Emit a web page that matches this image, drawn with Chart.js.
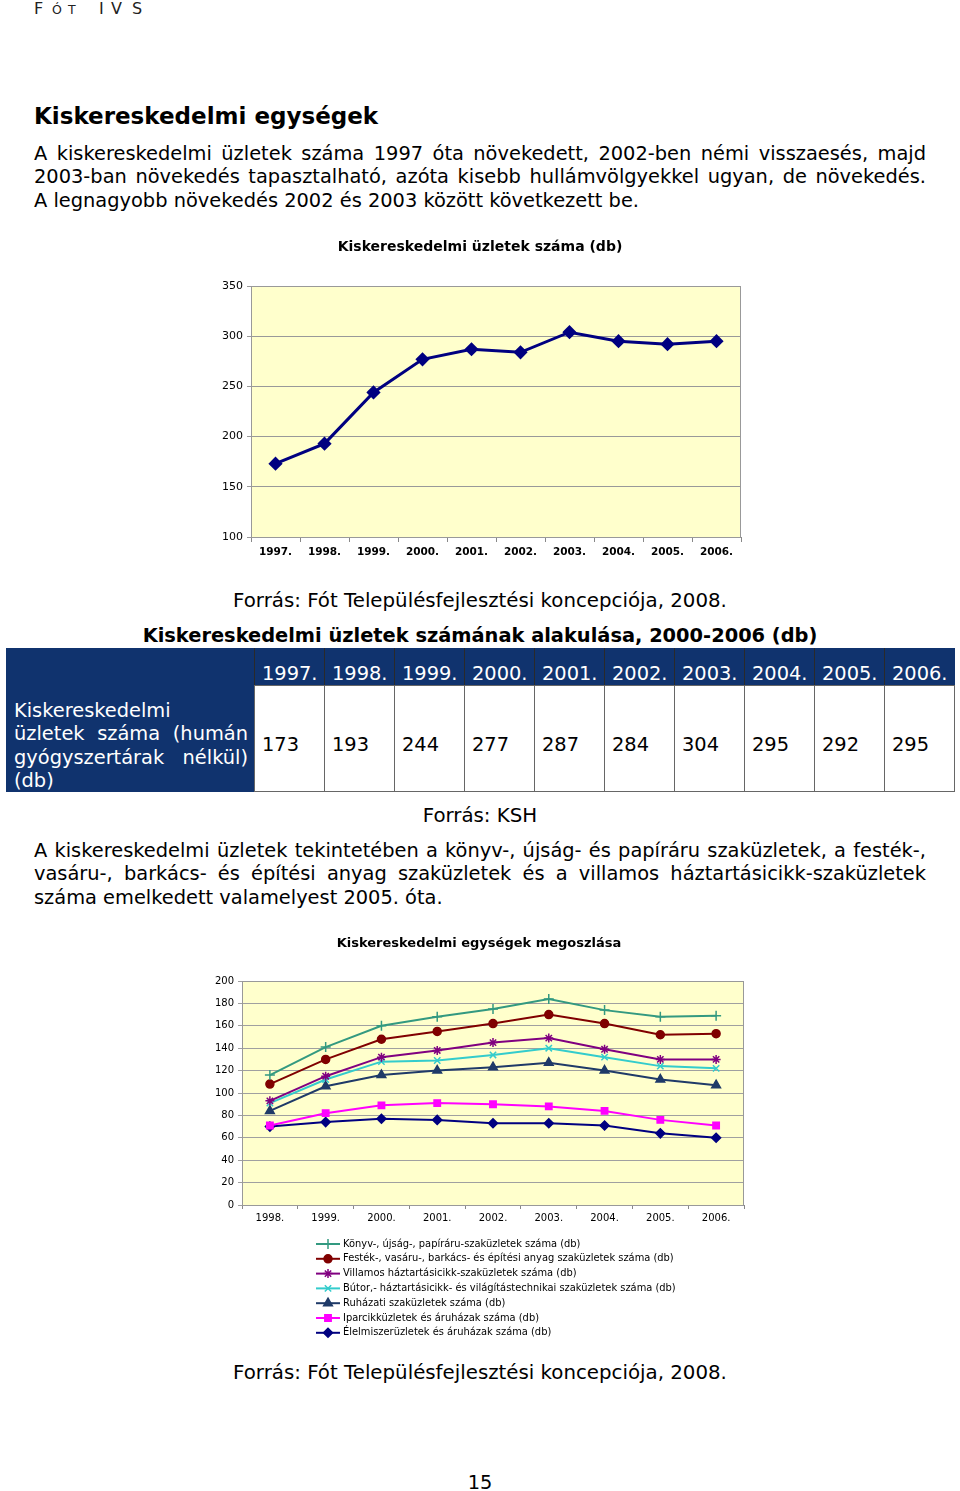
<!DOCTYPE html>
<html lang="hu">
<head>
<meta charset="UTF-8">
<title>Kiskereskedelmi egységek</title>
<script src="https://cdn.jsdelivr.net/npm/chart.js"></script>
<style>
  body {
    margin: 0;
    width: 960px;
    height: 1491px;
    position: relative;
    overflow: hidden;
    background: #fff;
    color: #000;
    font-family: "DejaVu Sans", Verdana, sans-serif;
  }
  .hdr span { position: absolute; top: 0; font-size: 16px; line-height: 18px; color: #222; }
  .hdr span.sc { font-size: 12.5px; top: 1px; }
  h1 { position: absolute; left: 34px; top: 102px; margin: 0; font-size: 23px; line-height: 28px; }
  .para { position: absolute; left: 34px; width: 892px; font-size: 19.4px; line-height: 23.3px; }
  .para .j { text-align: justify; text-align-last: justify; }
  .center { position: absolute; left: 0; width: 960px; text-align: center; font-size: 19.4px; line-height: 24px; }
  .src { font-size: 19.8px; }
  canvas { position: absolute; }
  .cell { position: absolute; box-sizing: border-box; font-size: 19.4px; line-height: 23px; }
  .head { background: #10336e; color: #fff; }
  .data { background: #fff; border: 1px solid #666; }
  .rowhead { line-height: 23.3px; }
  .rowhead .j { text-align: justify; text-align-last: justify; }
</style>
</head>
<body>
<div class="hdr">
  <span style="left:34px">F</span><span class="sc" style="left:52px">Ó</span><span class="sc" style="left:68px">T</span>
  <span style="left:99px">I</span><span style="left:111px">V</span><span style="left:132px">S</span>
</div>

<h1>Kiskereskedelmi egységek</h1>

<div class="para" style="top:142px">
  <div class="j">A kiskereskedelmi üzletek száma 1997 óta növekedett, 2002-ben némi visszaesés, majd</div>
  <div class="j">2003-ban növekedés tapasztalható, azóta kisebb hullámvölgyekkel ugyan, de növekedés.</div>
  <div>A legnagyobb növekedés 2002 és 2003 között következett be.</div>
</div>

<canvas id="shopChart" width="524" height="329" style="left:219px; top:238px;"></canvas>

<div class="center src" style="top:589px">Forrás: Fót Településfejlesztési koncepciója, 2008.</div>
<div class="center" style="top:624px; font-weight:bold;">Kiskereskedelmi üzletek számának alakulása, 2000-2006 (db)</div>

<div id="table"></div>

<div class="center src" style="top:804px">Forrás: KSH</div>

<div class="para" style="top:839px">
  <div class="j">A kiskereskedelmi üzletek tekintetében a könyv-, újság- és papíráru szaküzletek, a festék-,</div>
  <div class="j">vasáru-, barkács- és építési anyag szaküzletek és a villamos háztartásicikk-szaküzletek</div>
  <div>száma emelkedett valamelyest 2005. óta.</div>
</div>

<canvas id="typeChart" width="532" height="409" style="left:214px; top:936px;"></canvas>

<div class="center src" style="top:1361px">Forrás: Fót Településfejlesztési koncepciója, 2008.</div>
<div class="center" style="top:1471px">15</div>

<script>
// --- adatok ---
const years1 = ['1997.', '1998.', '1999.', '2000.', '2001.', '2002.', '2003.', '2004.', '2005.', '2006.'];
const shopCounts = [173, 193, 244, 277, 287, 284, 304, 295, 292, 295];
const shopAxisMin = 100;
const shopAxisMax = 350;
const shopAxisStep = 50;

const years2 = ['1998.', '1999.', '2000.', '2001.', '2002.', '2003.', '2004.', '2005.', '2006.'];
const bookShops = [116, 141, 160, 168, 175, 184, 174, 168, 169];
const hardwareShops = [108, 130, 148, 155, 162, 170, 162, 152, 153];
const electricShops = [93, 115, 132, 138, 145, 149, 139, 130, 130];
const furnitureShops = [91, 112, 128, 129, 134, 140, 132, 124, 122];
const clothingShops = [84, 106, 116, 120, 123, 127, 120, 112, 107];
const industrialShops = [71, 82, 89, 91, 90, 88, 84, 76, 71];
const foodShops = [70, 74, 77, 76, 73, 73, 71, 64, 60];
const typeAxisMin = 0;
const typeAxisMax = 200;
const typeAxisStep = 20;

const seriesNames = [
    'Könyv-, újság-, papíráru-szaküzletek száma (db)',
    'Festék-, vasáru-, barkács- és építési anyag szaküzletek száma (db)',
    'Villamos háztartásicikk-szaküzletek száma (db)',
    'Bútor,- háztartásicikk- és világítástechnikai szaküzletek száma (db)',
    'Ruházati szaküzletek száma (db)',
    'Iparcikküzletek és áruházak száma (db)',
    'Élelmiszerüzletek és áruházak száma (db)'
];
const tableRowLabel = ['Kiskereskedelmi', 'üzletek száma (humán', 'gyógyszertárak nélkül)', '(db)'];

// --- táblázat ---
const table = document.getElementById('table');
function addCell(cls, left, top, width, height, html) {
    const d = document.createElement('div');
    d.className = 'cell ' + cls;
    d.style.left = left + 'px';
    d.style.top = top + 'px';
    d.style.width = width + 'px';
    d.style.height = height + 'px';
    d.innerHTML = html;
    table.appendChild(d);
    return d;
}
addCell('head', 6, 648, 948, 38, '');
addCell('head rowhead', 6, 685, 249, 107,
    '<div style="padding:14px 7px 0 8px">' +
    tableRowLabel.map((t, i) => '<div class="' + (i === 1 || i === 2 ? 'j' : '') + '">' + t + '</div>').join('') +
    '</div>');
years1.forEach((y, i) => {
    const x = 254 + i * 70;
    const h = addCell('head', x, 648, 71, 38, '<div style="padding:14px 0 0 7px">' + y + '</div>');
    h.style.borderLeft = '1px solid #2a2a2a';
    addCell('data', x, 685, 71, 107, '<div style="padding:47px 0 0 7px">' + shopCounts[i] + '</div>');
});

// --- közös beállítások ---
Chart.defaults.font.family = '"DejaVu Sans", Verdana, sans-serif';
Chart.defaults.color = '#000';

const plotFrame = {
    id: 'plotFrame',
    beforeDraw(chart) {
        const a = chart.chartArea, c = chart.ctx;
        c.save();
        c.fillStyle = '#ffffcc';
        c.fillRect(a.left, a.top, a.right - a.left, a.bottom - a.top);
        c.restore();
    },
    beforeDatasetsDraw(chart) {
        const a = chart.chartArea, c = chart.ctx;
        c.save();
        c.strokeStyle = '#999';
        c.lineWidth = 1;
        c.strokeRect(a.left + 0.5, a.top + 0.5, a.right - a.left - 1, a.bottom - a.top);
        c.restore();
    }
};

// jelmagyarázat a diagram alatt, soronként egy tétel
const lineLegend = {
    id: 'lineLegend',
    afterDraw(chart) {
        const c = chart.ctx, a = chart.chartArea;
        chart.data.datasets.forEach((ds, i) => {
            const y = a.bottom + 39 + i * 14.8;
            const x0 = a.left + 74;
            c.save();
            c.strokeStyle = ds.borderColor;
            c.lineWidth = 2;
            c.beginPath();
            c.moveTo(x0, y);
            c.lineTo(x0 + 24, y);
            c.stroke();
            c.fillStyle = ds.pointBackgroundColor;
            c.strokeStyle = ds.pointBorderColor;
            c.lineWidth = ds.pointBorderWidth;
            Chart.helpers.drawPoint(c, {
                pointStyle: ds.pointStyle, radius: ds.pointRadius, rotation: 0, borderWidth: ds.pointBorderWidth
            }, x0 + 12, y);
            c.fillStyle = '#000';
            c.font = '9.9px "DejaVu Sans"';
            c.textBaseline = 'middle';
            c.fillText(ds.label, x0 + 27, y);
            c.restore();
        });
    }
};

// az x tengely ne vegyen el helyet a feliratok miatt
function fixXAxis(height) {
    return s => {
        s.height = height;
        s.paddingLeft = 0;
        s.paddingRight = 0;
    };
}

// --- 1. diagram ---
new Chart(document.getElementById('shopChart'), {
    type: 'line',
    data: {
        labels: years1,
        datasets: [{
            data: shopCounts,
            borderColor: '#000080',
            borderWidth: 3,
            pointStyle: 'rectRot',
            pointRadius: 5,
            pointBackgroundColor: '#000080',
            pointBorderColor: '#000080',
            tension: 0
        }]
    },
    options: {
        responsive: false,
        animation: false,
        layout: { autoPadding: false, padding: { left: 0, right: 2, top: 0, bottom: 0 } },
        plugins: {
            legend: { display: false },
            tooltip: { enabled: false },
            title: {
                display: true,
                text: 'Kiskereskedelmi üzletek száma (db)',
                color: '#000',
                font: { size: 14, weight: 'bold', lineHeight: '18px' },
                padding: { top: 0, bottom: 30 }
            }
        },
        scales: {
            x: {
                offset: true,
                grid: { offset: true, drawOnChartArea: false, tickLength: 5, color: '#888' },
                border: { color: '#888' },
                ticks: { font: { size: 10.5, weight: 'bold' }, padding: 4, maxRotation: 0 },
                afterFit: fixXAxis(30)
            },
            y: {
                min: shopAxisMin,
                max: shopAxisMax,
                ticks: { stepSize: shopAxisStep, font: { size: 11 }, padding: 4 },
                grid: { color: '#999', tickLength: 4 },
                border: { color: '#888' },
                afterFit: s => { s.width = 32; }
            }
        }
    },
    plugins: [plotFrame]
});

// --- 2. diagram ---
const typeSeries = [bookShops, hardwareShops, electricShops, furnitureShops, clothingShops, industrialShops, foodShops];
const typeColors = ['#339980', '#800000', '#800080', '#33cccc', '#1f3a68', '#ff00ff', '#000080'];
const typeStyles = ['cross', 'circle', 'star', 'crossRot', 'triangle', 'rect', 'rectRot'];
const typeRadius = [5, 4, 4.5, 4.5, 5, 4.5, 4.5];

new Chart(document.getElementById('typeChart'), {
    type: 'line',
    data: {
        labels: years2,
        datasets: typeSeries.map((vals, i) => ({
            label: seriesNames[i],
            data: vals,
            borderColor: typeColors[i],
            borderWidth: 2,
            pointStyle: typeStyles[i],
            pointRadius: typeRadius[i],
            pointBackgroundColor: typeColors[i],
            pointBorderColor: typeColors[i],
            pointBorderWidth: 1.5,
            tension: 0
        }))
    },
    options: {
        responsive: false,
        animation: false,
        layout: { autoPadding: false, padding: { left: 0, right: 2, top: 0, bottom: 116 } },
        plugins: {
            legend: { display: false },
            tooltip: { enabled: false },
            title: {
                display: true,
                text: 'Kiskereskedelmi egységek megoszlása',
                color: '#000',
                font: { size: 13, weight: 'bold', lineHeight: '16px' },
                padding: { top: 0, bottom: 29 }
            }
        },
        scales: {
            x: {
                offset: true,
                grid: { offset: true, drawOnChartArea: false, tickLength: 4, color: '#888' },
                border: { color: '#888' },
                ticks: { font: { size: 10 }, padding: 3, maxRotation: 0 },
                afterFit: fixXAxis(24)
            },
            y: {
                min: typeAxisMin,
                max: typeAxisMax,
                ticks: { stepSize: typeAxisStep, font: { size: 10 }, padding: 4 },
                grid: { color: '#a0a0a0', tickLength: 4 },
                border: { color: '#888' },
                afterFit: s => { s.width = 28; }
            }
        }
    },
    plugins: [plotFrame, lineLegend]
});
</script>
</body>
</html>
